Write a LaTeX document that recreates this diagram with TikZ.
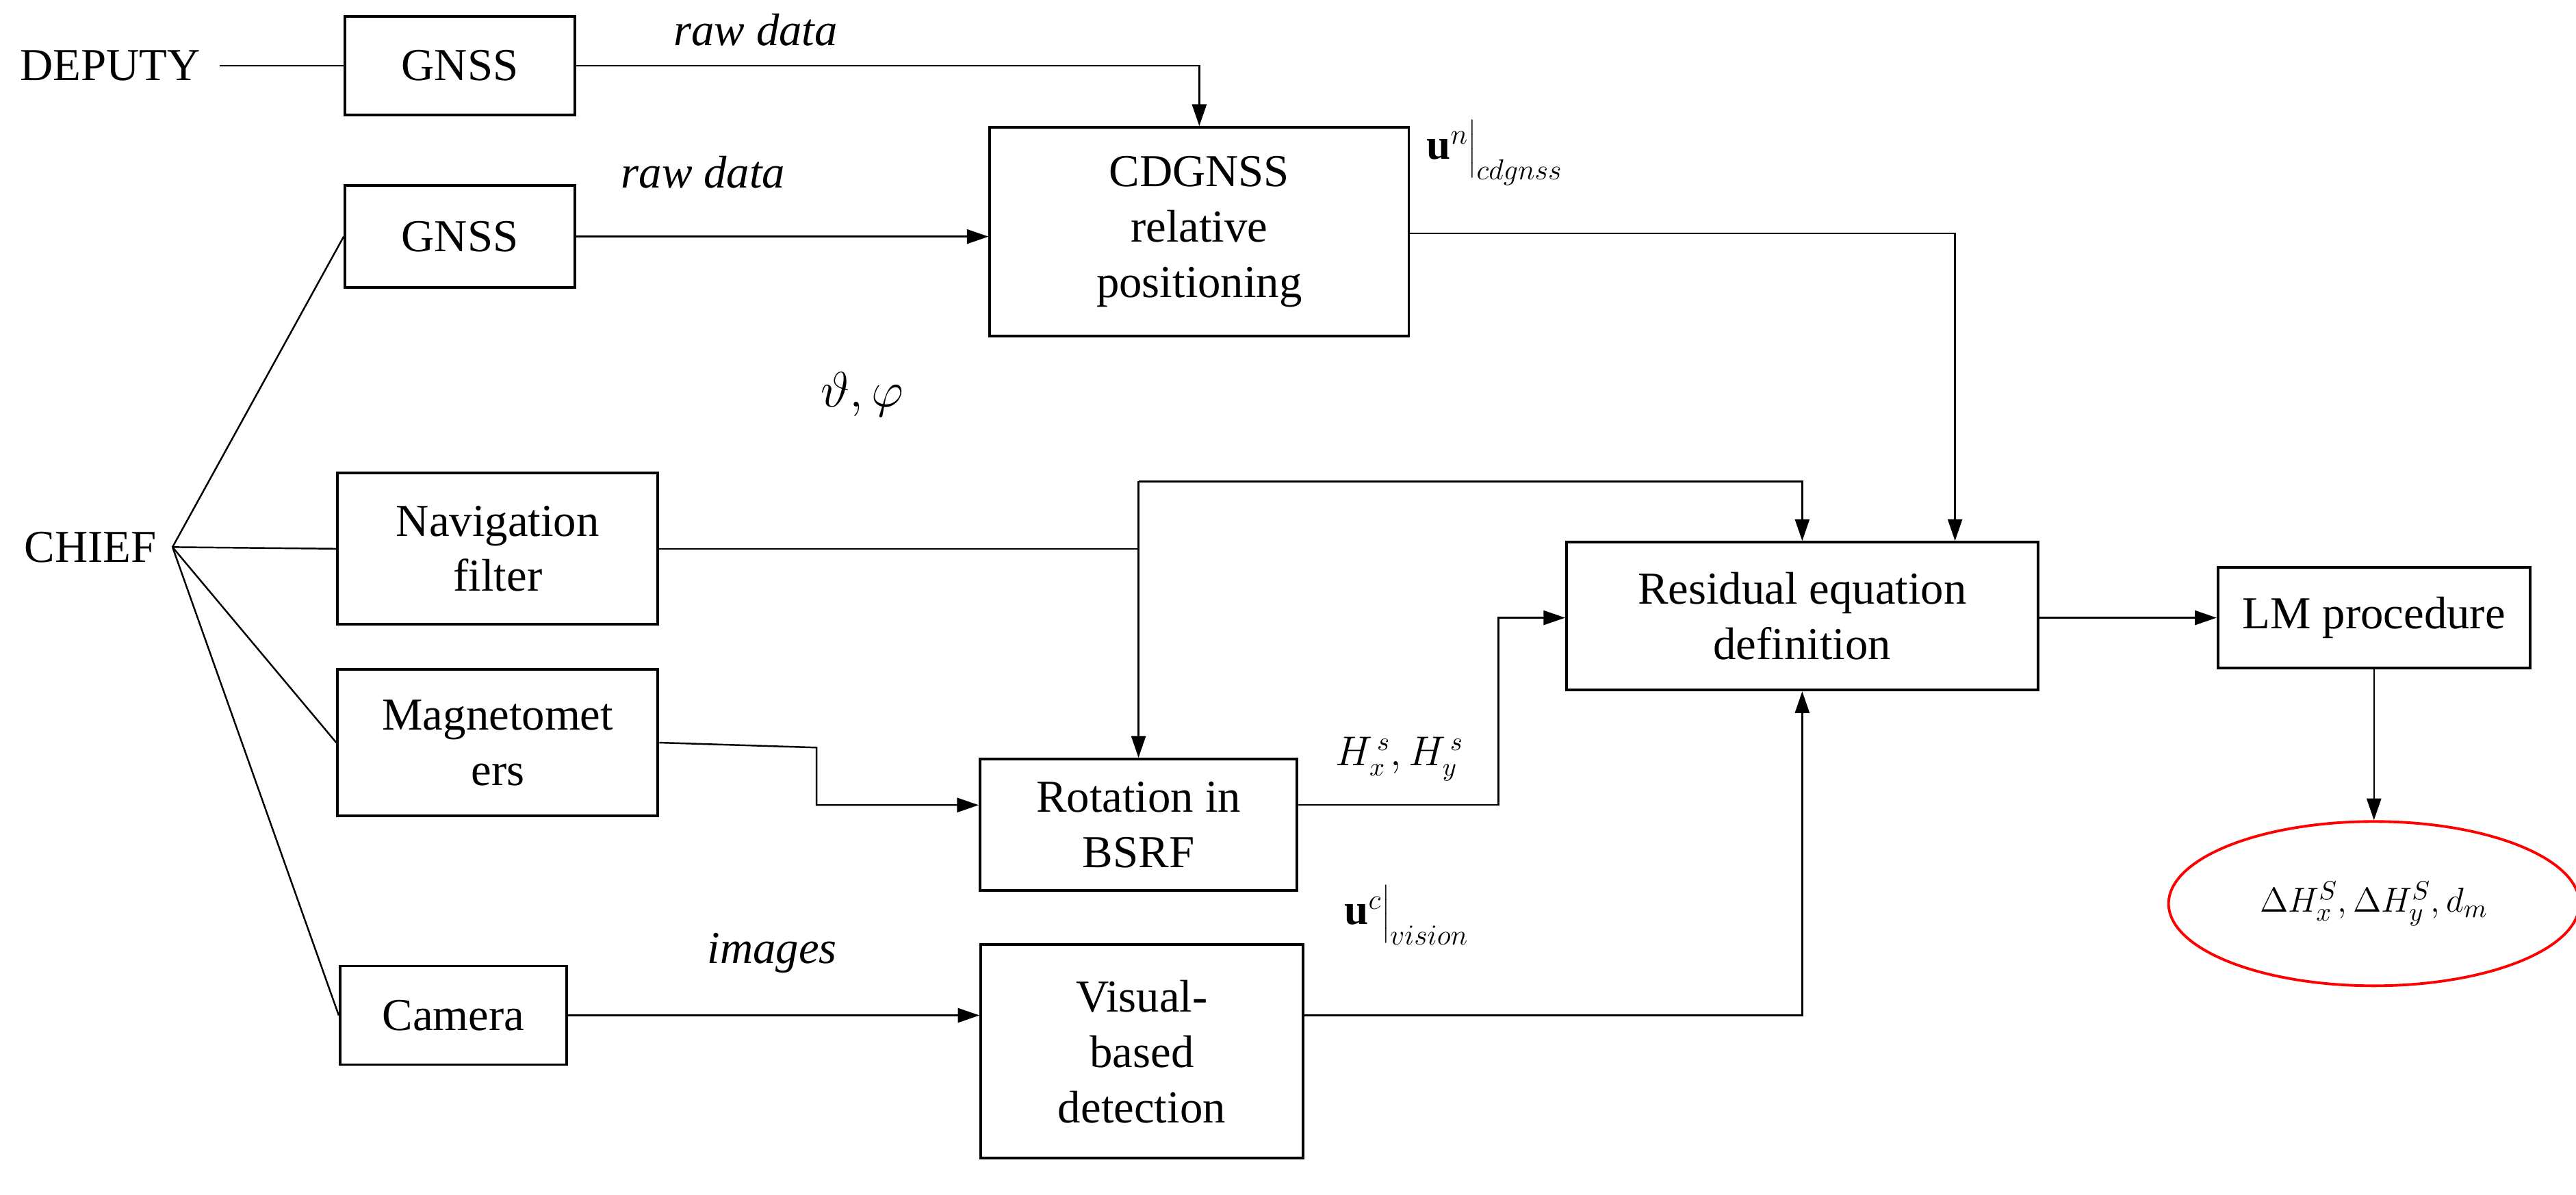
\documentclass[tikz,border=0pt]{standalone}
\usepackage{fontspec}
\setmainfont{Liberation Serif}
\usetikzlibrary{arrows.meta,shapes.geometric}
\begin{document}
\begin{tikzpicture}[x=0.024cm,y=-0.024cm,
  box/.style={draw,line width=1.1pt,minimum width=#1*0.024cm,inner sep=1pt,align=center,font=\fontsize{19}{23}\selectfont},
  lbl/.style={font=\fontsize{19}{23}\selectfont\itshape,inner sep=1pt},
  ar/.style={-{Triangle[length=9pt,width=6pt]},line width=0.7pt},
  ln/.style={line width=0.7pt}]
\useasboundingbox (0,0) rectangle (1568,727);
\node[lbl,font=\fontsize{19}{23}\selectfont] (dep) at (67,40) {DEPUTY};
\node[box=140,minimum height=60*0.024cm] (g1) at (280,40) {GNSS};
\node[box=140,minimum height=62*0.024cm] (g2) at (280,144) {GNSS};
\node[box=255,minimum height=127*0.024cm] (cd) at (730,141) {CDGNSS\\relative\\positioning};
\node[box=195,minimum height=92*0.024cm] (nav) at (303,334) {Navigation\\filter};
\node[box=195,minimum height=89*0.024cm] (mag) at (303,452) {Magnetomet\\ers};
\node[box=138,minimum height=60*0.024cm] (cam) at (276,618) {Camera};
\node[box=193,minimum height=80*0.024cm] (rot) at (693,502) {Rotation in\\BSRF};
\node[box=196,minimum height=130*0.024cm] (vis) at (695,640) {Visual-\\based\\detection};
\node[box=287,minimum height=90*0.024cm] (res) at (1097,375) {Residual equation\\definition};
\node[box=190,minimum height=61*0.024cm] (lm) at (1445,376) {LM procedure};
\node[draw=red,line width=1.1pt,ellipse,inner sep=0pt,minimum width=250*0.024cm,minimum height=100*0.024cm,font=\fontsize{15}{18}\selectfont] (out) at (1445,550) {$\Delta H_x^S,\Delta H_y^S,d_m$};
\node[lbl,font=\fontsize{19}{23}\selectfont] (chief) at (55,333) {CHIEF};
\coordinate (fan) at (105,333);
\coordinate (k1) at (730,40);
\coordinate (k2) at (1190,142);
\coordinate (k3) at (693,334);
\coordinate (k3t) at (693,293);
\coordinate (k4) at (1097,293);
\coordinate (k5) at (497,455);
\coordinate (k6) at (497,490);
\coordinate (k7) at (912,490);
\coordinate (k8) at (912,376);
\coordinate (k9) at (1097,618);
% labels
\node[lbl] (rd1) at (460,18) {raw data};
\node[lbl] (rd2) at (428,105) {raw data};
\node[lbl] (img) at (470,580) {images};
\node[font=\fontsize{22}{26}\selectfont] (tp) at (525,240) {$\vartheta,\varphi$};
\node[font=\fontsize{18}{22}\selectfont,anchor=west,inner sep=0pt] (un) at (868,92) {$\mathbf{u}^{n}\Bigg|_{cdgnss}$};
\node[font=\fontsize{18}{22}\selectfont,anchor=west,inner sep=0pt] (uc) at (818,556) {$\mathbf{u}^{c}\Bigg|_{vision}$};
\node[font=\fontsize{16}{20}\selectfont] (hh) at (852,462) {$H_x^{\,s},H_y^{\,s}$};
% connectors
\draw[ln] (dep.east)++(10,0) -- (g1.west);
\draw[ar] (g1.east) -- (k1) -- (cd.north);
\draw[ar] (g2.east) -- (cd.west|-g2.east);
\draw[ar] (cd.east|-k2) -- (k2) -- (k2|-res.north);
\draw[ln] (fan) -- (g2.west);
\draw[ln] (fan) -- (nav.west);
\draw[ln] (fan) -- (mag.west);
\draw[ln] (fan) -- (cam.west);
\draw[ln] (nav.east) -- (k3);
\draw[ar] (k3t) -- (k3t|-rot.north);
\draw[ar] (k3t) -- (k4) -- (k4|-res.north);
\draw[ar] (mag.east) -- (k5) -- (k6) -- (rot.west|-k6);
\draw[ar] (rot.east|-k7) -- (k7) -- (k8) -- (res.west|-k8);
\draw[ar] (res.east|-lm.west) -- (lm.west);
\draw[ar] (lm.south) -- (out.north);
\draw[ar] (cam.east) -- (vis.west|-cam.east);
\draw[ar] (vis.east|-k9) -- (k9) -- (res.south);
\end{tikzpicture}
\end{document}
